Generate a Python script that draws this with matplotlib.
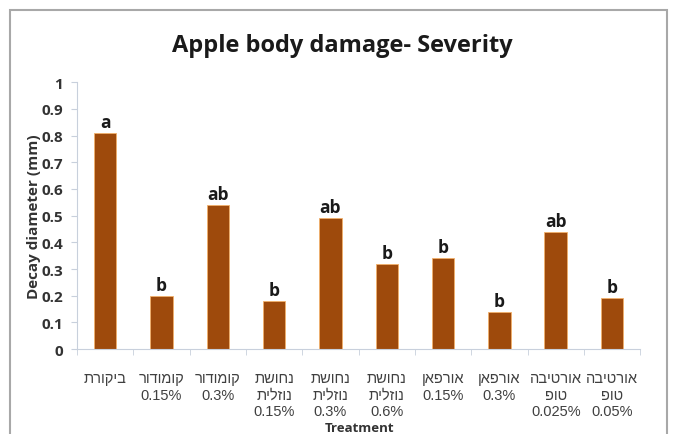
import matplotlib.pyplot as plt
import numpy as np
from matplotlib.patches import Rectangle

# treatment names (logical Hebrew order, one entry per line)
treatments = [
    ["ביקורת"],
    ["קומודור", "0.15%"],
    ["קומודור", "0.3%"],
    ["נחושת", "נוזלית", "0.15%"],
    ["נחושת", "נוזלית", "0.3%"],
    ["נחושת", "נוזלית", "0.6%"],
    ["אורפאן", "0.15%"],
    ["אורפאן", "0.3%"],
    ["אורטיבה", "טופ", "0.025%"],
    ["אורטיבה", "טופ", "0.05%"],
]
decay = [0.81, 0.20, 0.54, 0.18, 0.49, 0.32, 0.34, 0.14, 0.44, 0.19]
groups = ["a", "b", "ab", "b", "ab", "b", "b", "b", "ab", "b"]
y_ticks = [0, 0.1, 0.2, 0.3, 0.4, 0.5, 0.6, 0.7, 0.8, 0.9, 1]

BAR_COLOR = "#9E4A0C"
AXIS_COLOR = "#C8D0DC"
TEXT_FONT = ["Liberation Sans", "DejaVu Sans"]
BOLD_FONT = ["Open Sans", "DejaVu Sans"]


def visual_line(line):
    # matplotlib has no bidi support, so Hebrew lines are reversed by hand
    if any("\u0590" <= ch <= "\u05ff" for ch in line):
        return line[::-1]
    return line


tick_labels = ["\n".join(visual_line(l) for l in t) for t in treatments]

fig = plt.figure(figsize=(6.76, 4.35), dpi=100)
ax = fig.add_axes([0.114, 0.195, 0.833, 0.614])

# outer chart frame, as in the spreadsheet screenshot
fig.patches.append(Rectangle((0.015, -0.05), 0.972, 1.025, transform=fig.transFigure,
                             fill=False, edgecolor="#A8A8A8", linewidth=1.5))

x = np.arange(len(decay))
ax.bar(x, decay, width=0.4, color=BAR_COLOR, edgecolor="#F2B06A", linewidth=0.6)

for xi, val, g in zip(x, decay, groups):
    ax.text(xi, val + 0.008, g, ha="center", va="bottom", fontsize=12.5,
            fontweight="bold", family=BOLD_FONT, color="#1A1A1A")

ax.set_xlim(-0.5, len(decay) - 0.5)
ax.set_ylim(0, 1)
ax.set_yticks(y_ticks)
ax.set_yticklabels([f"{t:g}" for t in y_ticks], fontsize=11, fontweight="bold",
                   family=BOLD_FONT, color="#333333")
ax.set_xticks(x)
ax.set_xticklabels(tick_labels, fontsize=10.5, family=TEXT_FONT, color="#404040",
                   linespacing=1.2, va="top")
ax.set_xticks(np.arange(len(decay) + 1) - 0.5, minor=True)

for side in ["top", "right"]:
    ax.spines[side].set_visible(False)
for side in ["left", "bottom"]:
    ax.spines[side].set_color(AXIS_COLOR)
ax.tick_params(axis="y", which="major", length=4, color=AXIS_COLOR, pad=6)
ax.tick_params(axis="x", which="major", length=0, pad=16)
ax.tick_params(axis="x", which="minor", length=4, color=AXIS_COLOR)

ax.set_ylabel("Decay diameter (mm)", fontsize=11, fontweight="bold",
              family=BOLD_FONT, color="#333333", labelpad=0)
fig.text(0.532, 0.0, "Treatment", ha="center", va="bottom", fontsize=9.5,
         fontweight="bold", family=BOLD_FONT, color="#333333")
fig.text(0.507, 0.895, "Apple body damage- Severity", ha="center", va="center",
         fontsize=17, fontweight="bold", family=BOLD_FONT, color="#1A1A1A")

fig.savefig("out.png", dpi=100)
